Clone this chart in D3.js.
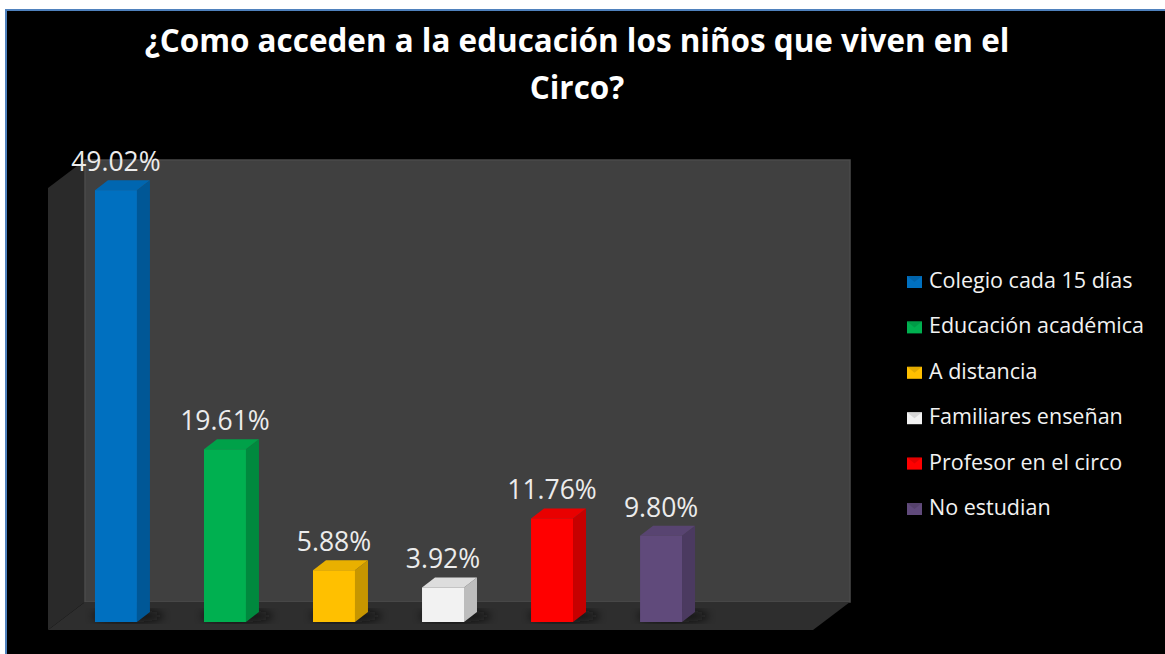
<!DOCTYPE html>
<html>
<head>
<meta charset="utf-8">
<script src="https://cdn.jsdelivr.net/npm/d3@7"></script>
<style>
  html, body { margin: 0; padding: 0; background: #fff; }
  svg { display: block; font-family: "Open Sans", "DejaVu Sans", sans-serif; }
</style>
</head>
<body>
<svg id="chart" width="1165" height="654"></svg>
<script>
// data
const categories = [
  "Colegio cada 15 días",
  "Educación académica",
  "A distancia",
  "Familiares enseñan",
  "Profesor en el circo",
  "No estudian"
];
const values = [49.02, 19.61, 5.88, 3.92, 11.76, 9.80];
const labels = ["49.02%", "19.61%", "5.88%", "3.92%", "11.76%", "9.80%"];
const colors = ["#0070c0", "#00b050", "#ffc000", "#f2f2f2", "#ff0000", "#604a7b"];
const titleLines = ["¿Como acceden a la educación los niños que viven en el", "Circo?"];

const svg = d3.select("#chart");

// frame
svg.append("rect").attr("x", 6).attr("y", 10).attr("width", 1165).attr("height", 654)
  .attr("fill", "#000").attr("stroke", "#4f81bd").attr("stroke-width", 2);

// title, fitted to the reference width
const title = svg.append("g").attr("fill", "#fff").attr("font-weight", 700)
  .attr("text-anchor", "middle");
title.selectAll("text").data(titleLines).join("text")
  .attr("x", 577).attr("y", (d, i) => 52 + i * 47)
  .attr("font-size", 28).text(d => d);
const w0 = title.select("text").node().getComputedTextLength();
title.selectAll("text").attr("font-size", 28 * 865 / w0);

// 3d box geometry
const depth = { dx: 37, dy: -28 };
const floor = { x0: 48, x1: 813, y: 630 };
const wallTop = 188;

const x = d3.scaleBand().domain(categories).range([53, 724]).paddingInner(0.615).paddingOuter(0.385);
const y = d3.scaleLinear().domain([0, 50]).range([622, 181.5]);
const bw = x.bandwidth();
const bd = { dx: 13, dy: -10 };

const pts = a => a.map(p => p.join(",")).join(" ");

// side wall
svg.append("polygon").attr("fill", "#2a2a2a").attr("points", pts([
  [floor.x0, wallTop], [floor.x0 + depth.dx, wallTop + depth.dy],
  [floor.x0 + depth.dx, floor.y + depth.dy], [floor.x0, floor.y]
]));
// back wall
svg.append("rect").attr("x", floor.x0 + depth.dx).attr("y", wallTop + depth.dy)
  .attr("width", floor.x1 - floor.x0).attr("height", floor.y - wallTop)
  .attr("fill", "#404040").attr("stroke", "#4a4a4a").attr("stroke-width", 1.5);
// floor
svg.append("polygon").attr("fill", "#2e2e2e").attr("points", pts([
  [floor.x0, floor.y], [floor.x1, floor.y],
  [floor.x1 + depth.dx, floor.y + depth.dy], [floor.x0 + depth.dx, floor.y + depth.dy]
]));

// soft shadows under the bars
const defs = svg.append("defs");
defs.append("filter").attr("id", "blur").append("feGaussianBlur").attr("stdDeviation", 4);
svg.append("g").selectAll("ellipse").data(categories).join("ellipse")
  .attr("cx", d => x(d) + bw / 2 + 12).attr("cy", 616)
  .attr("rx", bw * 0.85).attr("ry", 6)
  .attr("fill", "#111").attr("opacity", 0.8).attr("filter", "url(#blur)");

// bars
const bars = svg.append("g").selectAll("g").data(categories).join("g");
bars.append("polygon") // side
  .attr("fill", (d, i) => d3.color(colors[i]).darker(0.7))
  .attr("points", (d, i) => {
    const x1 = x(d) + bw, t = y(values[i]);
    return pts([[x1, t], [x1 + bd.dx, t + bd.dy], [x1 + bd.dx, y(0) + bd.dy], [x1, y(0)]]);
  });
bars.append("polygon") // top
  .attr("fill", (d, i) => d3.color(colors[i]).darker(0.25))
  .attr("points", (d, i) => {
    const x0 = x(d), t = y(values[i]);
    return pts([[x0, t], [x0 + bd.dx, t + bd.dy], [x0 + bw + bd.dx, t + bd.dy], [x0 + bw, t]]);
  });
bars.append("rect") // front
  .attr("x", d => x(d)).attr("y", (d, i) => y(values[i]))
  .attr("width", bw).attr("height", (d, i) => y(0) - y(values[i]))
  .attr("fill", (d, i) => colors[i]);

// value labels
svg.append("g").attr("fill", "#ececec").attr("font-size", 26.5).attr("text-anchor", "middle")
  .selectAll("text").data(categories).join("text")
  .attr("x", d => x(d) + bw / 2)
  .attr("y", (d, i) => y(values[i]) - 19)
  .text((d, i) => labels[i]);

// legend
const legend = svg.append("g").attr("transform", "translate(907,288)");
const rows = legend.selectAll("g").data(categories).join("g")
  .attr("transform", (d, i) => `translate(0,${i * 45.4})`);
rows.append("rect").attr("x", 0).attr("y", -12).attr("width", 15).attr("height", 12)
  .attr("fill", (d, i) => colors[i]);
rows.append("polygon").attr("points", "0,-12 15,-12 7.5,-6")
  .attr("fill", (d, i) => d3.color(colors[i]).darker(0.6)).attr("opacity", 0.6);
rows.append("text").attr("x", 22).attr("y", 0)
  .attr("fill", "#f2f2f2").attr("font-size", 21.5).text(d => d);
</script>
</body>
</html>
